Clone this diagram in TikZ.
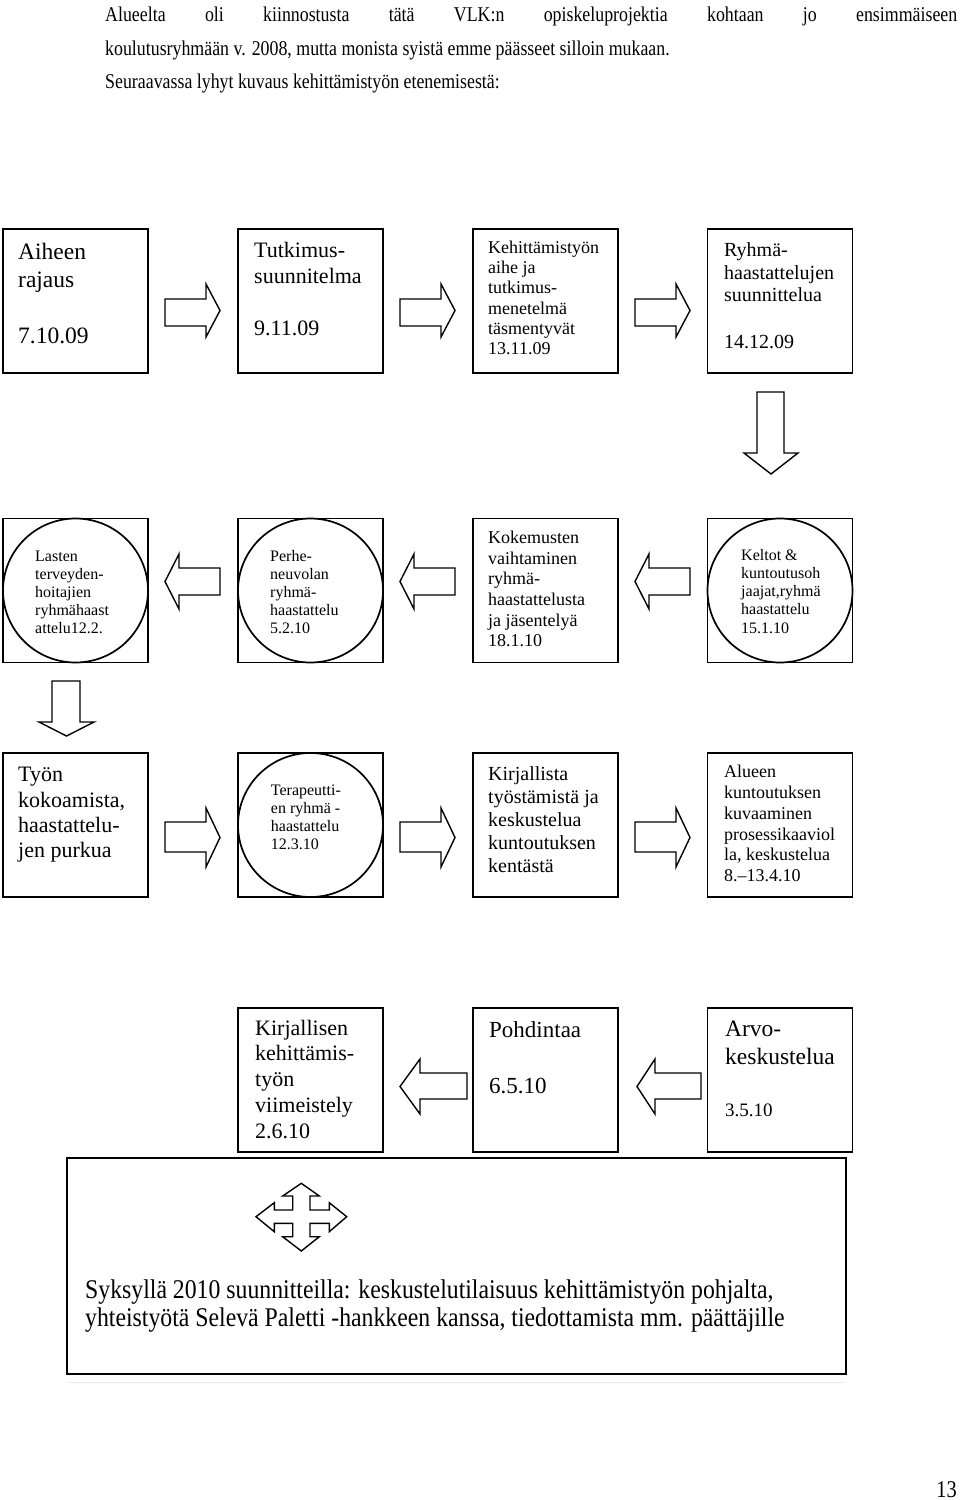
\documentclass[tikz,border=0pt]{standalone}
\usepackage{fontspec}
\setmainfont{Liberation Serif}
\newfontfamily\condfont{Liberation Serif}[FakeStretch=0.85]
\newfontfamily\condfontb{Liberation Serif}[FakeStretch=0.88]
\usetikzlibrary{shapes.geometric}
\newcommand{\fs}[2]{\fontsize{#1}{#2}\selectfont}
\newcommand{\ml}[1]{\parbox[t]{300pt}{\raggedright #1}}
\newcommand{\hblk}[7]{\draw[blockarrow] (#1,#4) -- (#2,#4) -- (#2,#6) -- (#3,{(#6+#7)/2}) -- (#2,#7) -- (#2,#5) -- (#1,#5) -- cycle;}
\newcommand{\vblk}[7]{\draw[blockarrow] (#4,#1) -- (#4,#2) -- (#6,#2) -- ({(#6+#7)/2},#3) -- (#7,#2) -- (#5,#2) -- (#5,#1) -- cycle;}
\tikzset{
  box/.style={draw, line width=1.7pt, minimum width=145pt, minimum height=144pt, inner sep=0pt},
  circbox/.style={draw, ellipse, line width=1.7pt, minimum width=145pt, minimum height=144pt, inner sep=0pt},
  txt/.style={inner sep=0pt, anchor=base west},
  blockarrow/.style={draw, line width=1.4pt, fill=white, line join=miter},
}
\begin{document}
\begin{tikzpicture}[x=1pt,y=-1pt]
\useasboundingbox[fill=white] (0,0) rectangle (960,1500);

% introduction text
\node[txt, font=\condfont\fs{21}{24}] (p1) at (105,21) {\makebox[852pt][s]{Alueelta oli kiinnostusta tätä VLK:n opiskeluprojektia kohtaan jo ensimmäiseen}};
\node[txt, font=\condfont\fs{21}{24}] (p2) at (105,55) {koulutusryhmään v. 2008, mutta monista syistä emme päässeet silloin mukaan.};
\node[txt, font=\condfont\fs{21}{24}] (p3) at (105,88) {Seuraavassa lyhyt kuvaus kehittämistyön etenemisestä:};

% row 1
\node[box] (b11) at (75.5,301) {};
\node[box] (b12) at (310.5,301) {};
\node[box] (b13) at (545.5,301) {};
\node[box] (b14) at (780,301) {};
\node[txt, font=\fs{23.5}{28}] (t11) at (18,259) {\ml{Aiheen\\rajaus\\[28pt]7.10.09}};
\node[txt, font=\fs{22}{26}] (t12) at (254,257) {\ml{Tutkimus-\\suunnitelma\\[26pt]9.11.09}};
\node[txt, font=\fs{18}{20.3}] (t13) at (488,253.3) {\ml{Kehittämistyön\\aihe ja\\tutkimus-\\menetelmä\\täsmentyvät\\13.11.09}};
\node[txt, font=\fs{20}{22.5}] (t14) at (724,256.7) {\ml{Ryhmä-\\haastattelujen\\suunnittelua\\[24pt]14.12.09}};
\hblk{165}{206}{220}{299}{326}{284}{337}
\hblk{400}{441}{455}{299}{326}{284}{337}
\hblk{635}{676}{690}{299}{326}{284}{337}
\vblk{392}{453}{474}{757}{784}{744}{798}

% row 2
\node[box] (b21) at (75.5,590.5) {};
\node[box] (b22) at (310.5,590.5) {};
\node[box] (b23) at (545.5,590.5) {};
\node[box] (b24) at (780,590.5) {};
\node[circbox] (c21) at (b21.center) {};
\node[circbox] (c22) at (b22.center) {};
\node[circbox] (c24) at (b24.center) {};
\node[txt, font=\fs{16}{18}] (t21) at (35,561) {\ml{Lasten\\terveyden-\\hoitajien\\ryhmähaast\\attelu12.2.}};
\node[txt, font=\fs{16}{18}] (t22) at (270,561) {\ml{Perhe-\\neuvolan\\ryhmä-\\haastattelu\\5.2.10}};
\node[txt, font=\fs{18}{20.7}] (t23) at (488,543.3) {\ml{Kokemusten\\vaihtaminen\\ryhmä-\\haastattelusta\\ja jäsentelyä\\18.1.10}};
\node[txt, font=\fs{16}{18.3}] (t24) at (741,560) {\ml{Keltot \&\\kuntoutusoh\\jaajat,ryhmä\\haastattelu\\15.1.10}};
\hblk{220}{179}{165}{568}{595}{554}{609}
\hblk{455}{414}{400}{568}{595}{554}{609}
\hblk{690}{649}{635}{568}{595}{554}{609}
\vblk{681}{722}{736}{52}{80}{39}{94}

% row 3
\node[box] (b31) at (75.5,825) {};
\node[box] (b32) at (310.5,825) {};
\node[box] (b33) at (545.5,825) {};
\node[box] (b34) at (780,825) {};
\node[circbox] (c32) at (b32.center) {};
\node[txt, font=\fs{22}{25.3}] (t31) at (18,781.7) {\ml{Työn\\kokoamista,\\haastattelu-\\jen purkua}};
\node[txt, font=\fs{16}{18.3}] (t32) at (270.7,795) {\ml{Terapeutti-\\en ryhmä -\\haastattelu\\12.3.10}};
\node[txt, font=\fs{20}{23.2}] (t33) at (488,780) {\ml{Kirjallista\\työstämistä ja\\keskustelua\\kuntoutuksen\\kentästä}};
\node[txt, font=\fs{18}{20.9}] (t34) at (724,777.3) {\ml{Alueen\\kuntoutuksen\\kuvaaminen\\prosessikaaviol\\la, keskustelua\\8.–13.4.10}};
\hblk{165}{206}{220}{822}{852}{808}{867}
\hblk{400}{441}{455}{822}{852}{808}{867}
\hblk{635}{676}{690}{822}{852}{808}{867}

% row 4
\node[box] (b42) at (310.5,1080) {};
\node[box] (b43) at (545.5,1080) {};
\node[box] (b44) at (780,1080) {};
\node[txt, font=\fs{22}{25.8}] (t42) at (255,1035) {\ml{Kirjallisen\\kehittämis-\\työn\\viimeistely\\2.6.10}};
\node[txt, font=\fs{23}{56}] (t43) at (489,1037) {\ml{Pohdintaa\\6.5.10}};
\node[txt, font=\fs{23.5}{28}] (t44) at (725,1036) {\ml{Arvo-\\keskustelua}};
\node[txt, font=\fs{19}{22}] (t44b) at (725,1116) {3.5.10};
\hblk{467}{420}{400}{1073}{1099}{1059}{1114}
\hblk{701}{655}{637}{1073}{1099}{1059}{1114}

% bottom box
\node[draw, line width=1.7pt, minimum width=779pt, minimum height=216pt, inner sep=0pt] (bb) at (456.5,1266) {};
\draw[gray!15, line width=1pt] (67,1382) -- (846,1382);
\draw[blockarrow]
  (301.3,1183.3) -- (319.3,1196) -- (310,1196) -- (310,1210) -- (329.3,1210) -- (329.3,1202.7)
  -- (346.7,1216.7) -- (329.3,1231.7) -- (329.3,1223.3) -- (310,1223.3) -- (310,1236.7) -- (319.3,1236.7)
  -- (301.3,1251) -- (282.7,1236.7) -- (292.7,1236.7) -- (292.7,1223.3) -- (274.3,1223.3) -- (274.3,1231.7)
  -- (256,1216.7) -- (274.3,1202.7) -- (274.3,1210) -- (292.7,1210) -- (292.7,1196) -- (282.7,1196) -- cycle;
\node[txt, font=\condfontb\fs{27}{28}] (tb) at (85,1298.5) {\parbox[t]{800pt}{\raggedright Syksyllä 2010 suunnitteilla: keskustelutilaisuus kehittämistyön pohjalta,\\yhteistyötä Selevä Paletti -hankkeen kanssa, tiedottamista mm. päättäjille}};

% page number
\node[inner sep=0pt, anchor=base east, font=\condfont\fs{24}{26}] (pn) at (957,1497) {13};
\end{tikzpicture}
\end{document}
